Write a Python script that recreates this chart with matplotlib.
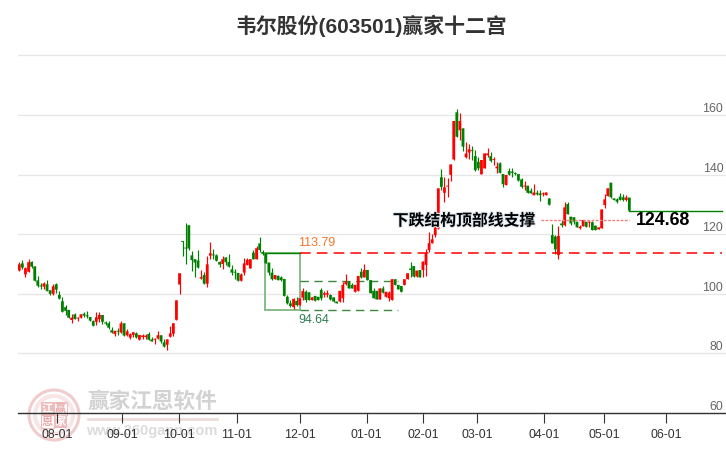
import matplotlib
matplotlib.use("Agg")
import matplotlib.pyplot as plt
from matplotlib.patches import Circle, Rectangle
import matplotlib.patheffects as pe

plt.rcParams['font.family'] = ['Liberation Sans', 'Noto Sans CJK SC', 'DejaVu Sans']

opens = [107.8,110.2,106.5,107.4,110.7,109.2,104.5,102.8,102.4,103.2,
 101.2,100,103.2,99.6,97.5,95.5,94.6,91.2,93.1,91.7,
 92,93.3,92.8,92.2,90.8,90.6,91.5,92.9,90.4,90.1,
 87.8,86.5,87.5,87,90.1,86.1,85.3,86.2,86.7,84.6,
 85.5,85.5,86.5,84.7,84.6,85,86.1,83.7,82.9,85.6,
 86.6,91.3,103.1,117.6,115.4,123,112.9,111.6,111.2,105.1,
 106.3,103.4,112.8,113.2,112.9,110.7,110,112.2,110.7,108.2,
 107.4,107,104.4,107.1,109.7,108.5,113.8,111.6,116.9,114,
 113.6,110.5,107.1,104.9,106,105.5,105,99,96.8,95.5,
 97.6,96.2,98.7,100.7,100.5,97.9,99.3,99,101.3,99.7,
 99.7,99.6,98.8,97.4,97.4,98.5,103.2,104.1,103,100.7,
 101,107.4,105.5,108,104.6,101,101,98.1,101.8,99,
 98.5,97.9,104.9,103,102.6,103,104.9,108.5,109.3,105.8,
 108,108,109.7,114.7,117,119.7,121.9,139.1,133.9,136,
 139.9,145.1,160.9,154.9,155.5,145.8,147.4,148.2,146.2,144.3,
 140.1,142.1,146.5,146.2,144.9,142.1,143.8,140.2,136.5,141.2,
 141,140.4,140.2,138.4,136,136.3,134.6,133.1,133.9,133.7,
 133.4,133.1,132,119.7,119.2,113,123.6,123,130.1,125.9,
 125.7,124.2,122,122.7,124.2,123.9,124,122.9,121.6,122,
 129.8,132.8,137.3,132,131.7,132.6,132.4,131.5,132.3]
closes = [109.9,108.8,108.6,110.6,109.1,104.4,102.7,102.5,103.5,101,
 100,102.5,101.4,98.4,94,94.3,92,92,91.5,92,
 93.1,92.7,92.4,91,89.3,92.1,92.9,90.6,90,88.6,
 87,87.6,87.3,90.1,86,87.4,86.4,87.1,85.4,86.2,
 86,86,84.6,84,84.8,86.1,84,82.3,84.7,86.7,
 90.1,97.8,106.9,117.4,115.2,115.2,111.3,110.5,108.8,105.6,
 103.4,109.9,113.6,112.9,111.1,109.8,111.6,110.6,109.1,107.1,
 107.1,104.4,106.5,110.2,111.4,111.6,111.6,115.3,114.7,113.4,
 110.2,107.1,104.9,106.3,104.6,104.6,99.3,96.8,95.9,98.3,
 96.2,98.5,100.9,97.9,97.9,98.8,97.7,97.9,98.5,100.2,
 100.2,98.1,97.4,96.8,101,103,104.1,101.8,101.8,103,
 106,105.5,108,104.6,100.2,98.5,98.1,101.8,100.4,100.7,
 100.4,104.9,103,101.5,100.7,104.9,106.9,108,105.8,107.8,
 105.5,110.8,113.6,117,118.3,122.5,135.4,135.9,135.7,136.2,
 143.4,158,152.7,158,149.4,147.1,148.5,147.9,141.5,142.1,
 144.9,147.1,147.1,144.6,145.2,142.7,140.6,136.8,139.9,140,
 140.6,140.2,138,135.9,136.3,133.9,133.7,134,133.4,133.1,
 133.7,134,129.9,116.9,114.9,119.4,123,129,126.7,123.6,
 124.2,122.3,122.5,124.8,122.5,124.2,121.4,121.4,122.3,128.3,
 131.7,135.4,132.4,131.5,130.9,131.5,131.5,132.3,127.9]
highs = [110.8,111.2,109,111.6,110.9,109.2,106,103.5,104,104.5,
 101.2,103.3,103.5,100.9,98.8,96.2,94.6,93.2,93.5,92.3,
 93.1,93.8,94.1,92.2,91.2,93.8,93.8,92.9,90.8,90.9,
 88.9,87.6,88.5,90.8,90.1,88.1,86.7,87.1,87.1,86.2,
 86.5,86.5,87.2,85.5,85.2,87.5,86.1,84.7,84.7,89.2,
 90.1,97.8,106.9,117.6,123.6,123,114.3,111.6,114.7,108,
 107.3,112.7,117.4,115,113.5,111.1,112.6,112.2,113.4,109.6,
 108.2,107,106.9,111.9,111.9,111.6,114.7,116,118.9,114.7,
 113.6,110.5,108.5,106.3,106.3,106,105,99.6,97.9,98.5,
 99,98.5,101.8,101.3,100.5,98.8,99.3,99,101.8,101,
 101.3,99.9,98.8,97.4,101,104,106.6,104.1,103.5,103,
 106,108.5,110,108,104.6,102,101,101.8,102.5,100.7,
 101,104.9,104.9,103,102.6,104.9,106.9,110.8,109.3,107.8,
 108,111.1,114.9,120.9,120,125,135.4,141.8,139.1,139,
 143.4,158,161.9,160.6,155.5,150.8,150.2,149.6,148.2,146,
 144.9,147.1,148.8,147.7,145.8,144.3,144.3,140.2,139.9,142.1,
 142.1,140.8,140.2,138.7,138,136.3,135.4,136.8,134.8,134.8,
 134.3,134,132,123.3,119.7,122.8,124.8,130.9,130.9,125.9,
 125.7,124.2,123.1,124.8,124.2,124.5,124.5,122.9,122.3,128.3,
 133.5,135.4,137.3,132,132,133.7,133.5,133,132.3]
lows = [107.8,108.3,105.8,107.4,108.8,104.4,102.4,101.7,101.7,101,
 99.7,99.7,100.4,98.4,94,92.9,92,90.3,91.5,91,
 92,92.3,92,91,89.3,89.5,90.6,89.9,89.5,88.3,
 87,86,86.3,87,86,86,85,85.6,85.2,84.6,
 84.7,84.9,84.6,84,83.3,84.7,83.6,82.3,81.3,85.6,
 86,91.3,100,112.7,110,114.7,107.8,105.8,108.8,105.1,
 103.4,102.4,111.8,111.8,111.1,109.1,108.4,109.6,109.1,106.4,
 105,104.4,104.4,106.3,109.7,108.5,111.6,111.6,114.1,113,
 110.2,106.3,104.6,104.9,104.6,104.2,99.3,96.6,95.5,94.8,
 95.9,96.2,97.9,97.4,97.9,97.9,97.7,97.9,97.9,98.8,
 98.8,97.9,97.4,96.8,97.4,97.4,103,101.8,101.8,100.7,
 101,105.2,105.5,104.6,100.2,98.5,98.1,98.1,100.4,99,
 97.5,97.9,103,101.5,100.7,103,104.9,105.8,105.8,105.8,
 105.5,105.8,106,114.1,116.9,119,121.9,135,130.9,132.6,
 137.9,145,152.5,151.6,148,145.5,145.1,144.9,141.2,141.6,
 140.1,142.1,146,144.1,143.2,140.6,140.6,135.9,136.5,140,
 139.3,139.8,138,135.4,134.8,133.9,133.7,133.1,133,131.3,
 132.8,133.1,129.9,116.9,113.4,111.6,122.5,122.7,126.7,123,
 123.5,122.3,121.6,122.7,122.5,122.5,121.4,121.4,121.6,122,
 128.7,132.8,132.2,131.5,130.4,131.5,131,131,127.9]

date_labels = ['08-01','09-01','10-01','11-01','12-01','01-01','02-01','03-01','04-01','05-01','06-01']
date_positions = [12.2,33.3,51.8,70.6,91.1,112.8,131,148.5,170.3,189.8,209.9]
price_ticks = [60,80,100,120,140,160,180]
price_labels = ['60','80','100','120','140','160','']

box_high = 113.79
box_low = 94.64
box_mid = 104.2
box_start = 79.7
box_end = 91.1
dash_end = 122.9
support_price = 124.68
support_start = 169.3
last_index = len(closes) - 1
line_end = 228

RED = '#ff0000'
GREEN = '#008000'

W, H = 726, 450
fig = plt.figure(figsize=(W / 100, H / 100), dpi=100, facecolor='white')

# watermark underneath the chart, in pixel space
wm = fig.add_axes([0, 0, 1, 1], zorder=0)
wm.set_xlim(0, W)
wm.set_ylim(H, 0)
wm.axis('off')
wm_red = '#f0cccc'
wm.add_patch(Circle((54, 415), 25, fill=False, ec=wm_red, lw=2.2))
wm.add_patch(Circle((54, 415), 19, fill=False, ec='#f8e6e6', lw=3))
wm.add_patch(Rectangle((41, 402), 13, 13, fc='#eebcbc', ec='none'))
wm.add_patch(Rectangle((54, 415), 13, 13, fc='#eebcbc', ec='none'))
wm.add_patch(Rectangle((54, 402), 13, 13, fill=False, ec='#eebcbc', lw=0.8))
wm.add_patch(Rectangle((41, 415), 13, 13, fill=False, ec='#eebcbc', lw=0.8))
for (cx, cy, ch, col) in [(47.5, 408.5, '江', 'white'), (60.5, 408.5, '赢', '#e8aaaa'),
                          (47.5, 421.5, '恩', '#e8aaaa'), (60.5, 421.5, '家', 'white')]:
    wm.text(cx, cy, ch, color=col, fontsize=8, fontweight='bold', ha='center', va='center')
wm.text(152, 402, '赢家江恩软件', color='#d2d2d2', fontsize=15.6, fontweight='bold', ha='center', va='center')
wm.plot([88, 217], [419, 419], color='#eedcdc', lw=2)
wm.text(152, 431, 'www.360gann.com', color='#dcdcdc', fontsize=10.5, fontweight='bold', ha='center', va='center')

ax = fig.add_axes([18 / W, 0, (W - 18) / W, 1], zorder=1)
px_per_candle = 3.081
ax.set_xlim((18 - 19.3) / px_per_candle, (W - 19.3) / px_per_candle)
ax.set_ylim(160 - 335 / 2.98, 160 + 115 / 2.98)
ax.patch.set_alpha(0)

for s in ['top', 'left', 'right']:
    ax.spines[s].set_visible(False)
ax.spines['bottom'].set_position(('data', 60))
ax.spines['bottom'].set_color('#333333')
ax.spines['bottom'].set_linewidth(1.0)

ax.set_axisbelow(True)
ax.yaxis.grid(True, color='#e6e6e6', lw=0.9)
ax.xaxis.grid(False)
ax.set_yticks(price_ticks)
ax.set_yticklabels(price_labels, color='#666666', fontsize=8.9)
ax.yaxis.tick_right()
ax.tick_params(axis='y', length=0, pad=-2)
for t in ax.get_yticklabels():
    t.set_ha('right')
    t.set_va('bottom')
ax.set_xticks(date_positions)
ax.set_xticklabels(date_labels, color='#333333', fontsize=8.9)
ax.tick_params(axis='x', length=7, width=0.8, color='#333333', pad=4.5)

xs = list(range(len(closes)))
colors = [RED if c >= o else GREEN for o, c in zip(opens, closes)]
ax.vlines(xs, lows, highs, colors=colors, lw=0.85, zorder=3)
bottoms = [min(o, c) for o, c in zip(opens, closes)]
heights = [max(abs(c - o), 0.3) for o, c in zip(opens, closes)]
bars = ax.bar(xs, heights, bottom=bottoms, width=0.9, color=colors, lw=0, zorder=4)
for b in bars:
    b.set_snap(False)

# structure box and levels
ax.add_patch(Rectangle((box_start, box_low), box_end - box_start, box_high - box_low,
                       fill=False, ec='#7fb77f', lw=1.3, zorder=2))
ax.plot([box_start, box_end], [box_high, box_high], color=GREEN, lw=1.0, zorder=2)
ax.plot([box_end, line_end], [box_high, box_high], color=RED, lw=1.1, dashes=(7, 4), zorder=5)
ax.plot([box_end, dash_end], [box_mid, box_mid], color='#3a8a3a', lw=1.0, dashes=(6, 4), zorder=2)
ax.plot([box_end, dash_end], [box_low, box_low], color='#3a8a3a', lw=1.0, dashes=(6, 4), zorder=2)
ax.plot([support_start, last_index], [support_price, support_price], color='#f08080', lw=1.0,
        dashes=(2, 1), zorder=5)
ax.plot([last_index, line_end], [closes[-1], closes[-1]], color=GREEN, lw=1.0, zorder=2)

ax.text(96.6, box_high + 1.2, '113.79', color='#f5762a', fontsize=8.9, ha='center', va='bottom')
ax.text(95.6, box_low - 1.5, '94.64', color='#2e7d52', fontsize=8.9, ha='center', va='top')
ann = ax.text(144.4, support_price - 0.2, '下跌结构顶部线支撑', color='black', fontsize=11.4,
              fontweight='bold', ha='center', va='center', zorder=6)
ann.set_path_effects([pe.withStroke(linewidth=1.5, foreground='#dfe8f0')])
val = ax.text(208.8, support_price - 0.1, '124.68', color='black', fontsize=12.8,
              fontweight='bold', ha='center', va='center', zorder=6)

fig.text(371 / W, 1 - 26 / H, '韦尔股份(603501)赢家十二宫', color='#333333', fontsize=15,
         fontweight='bold', ha='center', va='center')

fig.savefig('out.png', dpi=100)
